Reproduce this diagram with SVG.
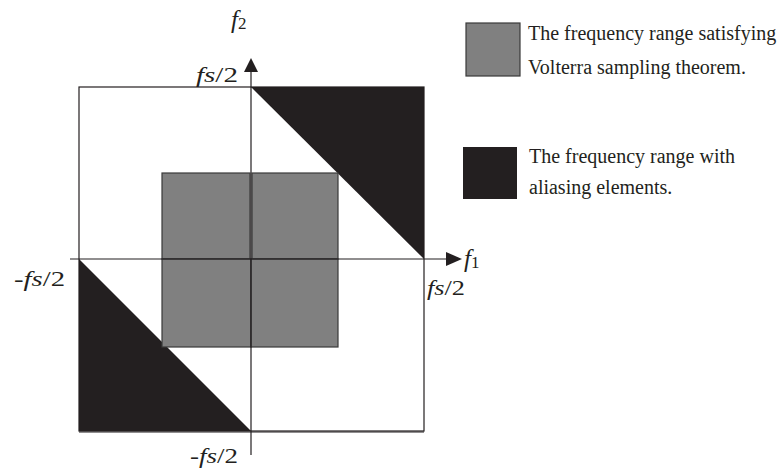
<svg xmlns="http://www.w3.org/2000/svg" width="781" height="471" viewBox="0 0 781 471">
<style>
  .lbl { font-family: "Liberation Serif", "Times New Roman", serif; font-size: 21px; fill: #231f20; }
  .big { font-size: 25px; }
  .sub { font-size: 17px; }
  .leg { font-family: "Liberation Serif", "Times New Roman", serif; font-size: 20px; fill: #231f20; }
  .it { font-style: italic; }
  .gray { fill: #808080; stroke: #3a3a3a; stroke-width: 1.2; }
  .blk { fill: #231f20; }
  .ln { stroke: #231f20; stroke-width: 1.2; fill: none; }
</style>
<rect width="781" height="471" fill="#ffffff"/>
<g id="aliasing-regions">
  <polygon class="blk" points="251,87 424,87 424,259"/>
  <polygon class="blk" points="79,259 79,431 251,431"/>
</g>
<g id="volterra-region">
  <rect class="gray" x="162" y="173" width="88" height="86"/>
  <rect class="gray" x="252" y="173" width="86" height="86"/>
  <rect class="gray" x="162" y="259" width="89" height="88"/>
  <rect class="gray" x="251" y="259" width="87" height="88"/>
</g>
<g id="connectors">
  <rect class="ln" x="79" y="87" width="345" height="344"/>
  <line class="ln" x1="79" y1="432" x2="424" y2="432"/>
  <line class="ln" x1="251" y1="70" x2="251" y2="455"/>
  <line class="ln" x1="70" y1="259" x2="448" y2="259"/>
  <polygon class="blk" points="251,58 244,72 258,72"/>
  <polygon class="blk" points="462,259 446,252 446,266"/>
</g>
<g id="axis-labels">
  <text class="lbl big" x="231" y="28"><tspan class="it">f</tspan><tspan class="sub" dy="1">2</tspan></text>
  <text class="lbl" x="196" y="82" textLength="42" lengthAdjust="spacingAndGlyphs"><tspan class="it">fs</tspan>/2</text>
  <text class="lbl big" x="464" y="267"><tspan class="it">f</tspan><tspan class="sub" dy="1">1</tspan></text>
  <text class="lbl" x="427" y="295" textLength="38" lengthAdjust="spacingAndGlyphs"><tspan class="it">fs</tspan>/2</text>
  <text class="lbl" x="14" y="286" textLength="51" lengthAdjust="spacingAndGlyphs">-<tspan class="it">fs</tspan>/2</text>
  <text class="lbl" x="190" y="463" textLength="48" lengthAdjust="spacingAndGlyphs">-<tspan class="it">fs</tspan>/2</text>
</g>
<g id="legend-volterra">
  <rect class="gray" x="466" y="23" width="54" height="53"/>
  <text class="leg" x="528" y="40">The frequency range satisfying</text>
  <text class="leg" x="528" y="74">Volterra sampling theorem.</text>
</g>
<g id="legend-aliasing">
  <rect class="blk" x="463" y="147" width="54" height="52"/>
  <text class="leg" x="529" y="163">The frequency range with</text>
  <text class="leg" x="529" y="194">aliasing elements.</text>
</g>
</svg>
